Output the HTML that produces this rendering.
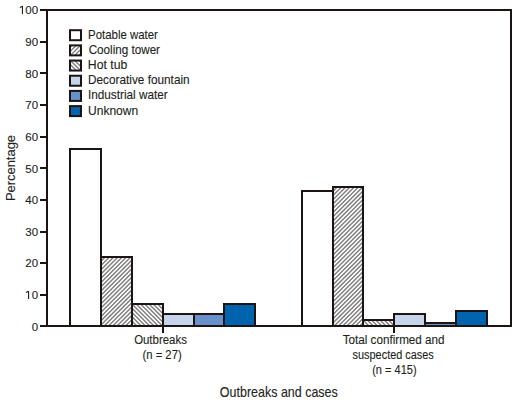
<!DOCTYPE html><html><head><meta charset="utf-8"><style>html,body{margin:0;padding:0;background:#fff;width:517px;height:405px;overflow:hidden}svg{display:block}text{font-family:"Liberation Sans",sans-serif;fill:#231f20;stroke:#231f20;stroke-width:0.12}</style></head><body><svg width="517" height="405" viewBox="0 0 517 405"><rect width="517" height="405" fill="#fff"/><rect x="70" y="149" width="31" height="177" fill="#ffffff" stroke="#1c1412" stroke-width="2"/><clipPath id="cp1"><rect x="101.00" y="257.00" width="31.00" height="69.00"/></clipPath><rect x="101.00" y="257.00" width="31.00" height="69.00" fill="#fff"/><path clip-path="url(#cp1)" d="M-7.50,255.00 L-80.50,328.00 M-3.25,255.00 L-76.25,328.00 M1.00,255.00 L-72.00,328.00 M5.25,255.00 L-67.75,328.00 M9.50,255.00 L-63.50,328.00 M13.75,255.00 L-59.25,328.00 M18.00,255.00 L-55.00,328.00 M22.25,255.00 L-50.75,328.00 M26.50,255.00 L-46.50,328.00 M30.75,255.00 L-42.25,328.00 M35.00,255.00 L-38.00,328.00 M39.25,255.00 L-33.75,328.00 M43.50,255.00 L-29.50,328.00 M47.75,255.00 L-25.25,328.00 M52.00,255.00 L-21.00,328.00 M56.25,255.00 L-16.75,328.00 M60.50,255.00 L-12.50,328.00 M64.75,255.00 L-8.25,328.00 M69.00,255.00 L-4.00,328.00 M73.25,255.00 L0.25,328.00 M77.50,255.00 L4.50,328.00 M81.75,255.00 L8.75,328.00 M86.00,255.00 L13.00,328.00 M90.25,255.00 L17.25,328.00 M94.50,255.00 L21.50,328.00 M98.75,255.00 L25.75,328.00 M103.00,255.00 L30.00,328.00 M107.25,255.00 L34.25,328.00 M111.50,255.00 L38.50,328.00 M115.75,255.00 L42.75,328.00 M120.00,255.00 L47.00,328.00 M124.25,255.00 L51.25,328.00 M128.50,255.00 L55.50,328.00 M132.75,255.00 L59.75,328.00 M137.00,255.00 L64.00,328.00 M141.25,255.00 L68.25,328.00 M145.50,255.00 L72.50,328.00 M149.75,255.00 L76.75,328.00 M154.00,255.00 L81.00,328.00 M158.25,255.00 L85.25,328.00 M162.50,255.00 L89.50,328.00 M166.75,255.00 L93.75,328.00 M171.00,255.00 L98.00,328.00 M175.25,255.00 L102.25,328.00 M179.50,255.00 L106.50,328.00 M183.75,255.00 L110.75,328.00 M188.00,255.00 L115.00,328.00 M192.25,255.00 L119.25,328.00 M196.50,255.00 L123.50,328.00 M200.75,255.00 L127.75,328.00 M205.00,255.00 L132.00,328.00 M209.25,255.00 L136.25,328.00 M213.50,255.00 L140.50,328.00" stroke="#7d7d7d" stroke-width="1.4" fill="none"/><rect x="101" y="257" width="31" height="69" fill="none" stroke="#1c1412" stroke-width="2"/><clipPath id="cp2"><rect x="132.00" y="304.00" width="31.00" height="22.00"/></clipPath><rect x="132.00" y="304.00" width="31.00" height="22.00" fill="#fff"/><path clip-path="url(#cp2)" d="M66.25,302.00 L92.25,328.00 M70.50,302.00 L96.50,328.00 M74.75,302.00 L100.75,328.00 M79.00,302.00 L105.00,328.00 M83.25,302.00 L109.25,328.00 M87.50,302.00 L113.50,328.00 M91.75,302.00 L117.75,328.00 M96.00,302.00 L122.00,328.00 M100.25,302.00 L126.25,328.00 M104.50,302.00 L130.50,328.00 M108.75,302.00 L134.75,328.00 M113.00,302.00 L139.00,328.00 M117.25,302.00 L143.25,328.00 M121.50,302.00 L147.50,328.00 M125.75,302.00 L151.75,328.00 M130.00,302.00 L156.00,328.00 M134.25,302.00 L160.25,328.00 M138.50,302.00 L164.50,328.00 M142.75,302.00 L168.75,328.00 M147.00,302.00 L173.00,328.00 M151.25,302.00 L177.25,328.00 M155.50,302.00 L181.50,328.00 M159.75,302.00 L185.75,328.00 M164.00,302.00 L190.00,328.00 M168.25,302.00 L194.25,328.00 M172.50,302.00 L198.50,328.00 M176.75,302.00 L202.75,328.00 M181.00,302.00 L207.00,328.00 M185.25,302.00 L211.25,328.00 M189.50,302.00 L215.50,328.00 M193.75,302.00 L219.75,328.00" stroke="#7d7d7d" stroke-width="1.4" fill="none"/><rect x="132" y="304" width="31" height="22" fill="none" stroke="#1c1412" stroke-width="2"/><rect x="163" y="314" width="31" height="12" fill="#c6d3ea" stroke="#1c1412" stroke-width="2"/><rect x="194" y="314" width="30" height="12" fill="#6991c9" stroke="#1c1412" stroke-width="2"/><rect x="224" y="304" width="31" height="22" fill="#0063ad" stroke="#1c1412" stroke-width="2"/><rect x="302" y="191" width="31" height="135" fill="#ffffff" stroke="#1c1412" stroke-width="2"/><clipPath id="cp3"><rect x="333.00" y="187.00" width="30.00" height="139.00"/></clipPath><rect x="333.00" y="187.00" width="30.00" height="139.00" fill="#fff"/><path clip-path="url(#cp3)" d="M156.50,185.00 L13.50,328.00 M160.75,185.00 L17.75,328.00 M165.00,185.00 L22.00,328.00 M169.25,185.00 L26.25,328.00 M173.50,185.00 L30.50,328.00 M177.75,185.00 L34.75,328.00 M182.00,185.00 L39.00,328.00 M186.25,185.00 L43.25,328.00 M190.50,185.00 L47.50,328.00 M194.75,185.00 L51.75,328.00 M199.00,185.00 L56.00,328.00 M203.25,185.00 L60.25,328.00 M207.50,185.00 L64.50,328.00 M211.75,185.00 L68.75,328.00 M216.00,185.00 L73.00,328.00 M220.25,185.00 L77.25,328.00 M224.50,185.00 L81.50,328.00 M228.75,185.00 L85.75,328.00 M233.00,185.00 L90.00,328.00 M237.25,185.00 L94.25,328.00 M241.50,185.00 L98.50,328.00 M245.75,185.00 L102.75,328.00 M250.00,185.00 L107.00,328.00 M254.25,185.00 L111.25,328.00 M258.50,185.00 L115.50,328.00 M262.75,185.00 L119.75,328.00 M267.00,185.00 L124.00,328.00 M271.25,185.00 L128.25,328.00 M275.50,185.00 L132.50,328.00 M279.75,185.00 L136.75,328.00 M284.00,185.00 L141.00,328.00 M288.25,185.00 L145.25,328.00 M292.50,185.00 L149.50,328.00 M296.75,185.00 L153.75,328.00 M301.00,185.00 L158.00,328.00 M305.25,185.00 L162.25,328.00 M309.50,185.00 L166.50,328.00 M313.75,185.00 L170.75,328.00 M318.00,185.00 L175.00,328.00 M322.25,185.00 L179.25,328.00 M326.50,185.00 L183.50,328.00 M330.75,185.00 L187.75,328.00 M335.00,185.00 L192.00,328.00 M339.25,185.00 L196.25,328.00 M343.50,185.00 L200.50,328.00 M347.75,185.00 L204.75,328.00 M352.00,185.00 L209.00,328.00 M356.25,185.00 L213.25,328.00 M360.50,185.00 L217.50,328.00 M364.75,185.00 L221.75,328.00 M369.00,185.00 L226.00,328.00 M373.25,185.00 L230.25,328.00 M377.50,185.00 L234.50,328.00 M381.75,185.00 L238.75,328.00 M386.00,185.00 L243.00,328.00 M390.25,185.00 L247.25,328.00 M394.50,185.00 L251.50,328.00 M398.75,185.00 L255.75,328.00 M403.00,185.00 L260.00,328.00 M407.25,185.00 L264.25,328.00 M411.50,185.00 L268.50,328.00 M415.75,185.00 L272.75,328.00 M420.00,185.00 L277.00,328.00 M424.25,185.00 L281.25,328.00 M428.50,185.00 L285.50,328.00 M432.75,185.00 L289.75,328.00 M437.00,185.00 L294.00,328.00 M441.25,185.00 L298.25,328.00 M445.50,185.00 L302.50,328.00 M449.75,185.00 L306.75,328.00 M454.00,185.00 L311.00,328.00 M458.25,185.00 L315.25,328.00 M462.50,185.00 L319.50,328.00 M466.75,185.00 L323.75,328.00 M471.00,185.00 L328.00,328.00 M475.25,185.00 L332.25,328.00 M479.50,185.00 L336.50,328.00 M483.75,185.00 L340.75,328.00 M488.00,185.00 L345.00,328.00 M492.25,185.00 L349.25,328.00 M496.50,185.00 L353.50,328.00 M500.75,185.00 L357.75,328.00 M505.00,185.00 L362.00,328.00 M509.25,185.00 L366.25,328.00 M513.50,185.00 L370.50,328.00" stroke="#7d7d7d" stroke-width="1.4" fill="none"/><rect x="333" y="187" width="30" height="139" fill="none" stroke="#1c1412" stroke-width="2"/><clipPath id="cp4"><rect x="363.00" y="320.00" width="31.00" height="6.00"/></clipPath><rect x="363.00" y="320.00" width="31.00" height="6.00" fill="#fff"/><path clip-path="url(#cp4)" d="M314.25,318.00 L324.25,328.00 M318.50,318.00 L328.50,328.00 M322.75,318.00 L332.75,328.00 M327.00,318.00 L337.00,328.00 M331.25,318.00 L341.25,328.00 M335.50,318.00 L345.50,328.00 M339.75,318.00 L349.75,328.00 M344.00,318.00 L354.00,328.00 M348.25,318.00 L358.25,328.00 M352.50,318.00 L362.50,328.00 M356.75,318.00 L366.75,328.00 M361.00,318.00 L371.00,328.00 M365.25,318.00 L375.25,328.00 M369.50,318.00 L379.50,328.00 M373.75,318.00 L383.75,328.00 M378.00,318.00 L388.00,328.00 M382.25,318.00 L392.25,328.00 M386.50,318.00 L396.50,328.00 M390.75,318.00 L400.75,328.00 M395.00,318.00 L405.00,328.00 M399.25,318.00 L409.25,328.00 M403.50,318.00 L413.50,328.00 M407.75,318.00 L417.75,328.00" stroke="#7d7d7d" stroke-width="1.4" fill="none"/><rect x="363" y="320" width="31" height="6" fill="none" stroke="#1c1412" stroke-width="2"/><rect x="394" y="314" width="31" height="12" fill="#c6d3ea" stroke="#1c1412" stroke-width="2"/><rect x="425" y="323" width="31" height="3" fill="#6991c9" stroke="#1c1412" stroke-width="2"/><rect x="456" y="311" width="31" height="15" fill="#0063ad" stroke="#1c1412" stroke-width="2"/><rect x="40" y="9" width="472" height="2" fill="#1c1412"/><rect x="40" y="325" width="472" height="2" fill="#1c1412"/><rect x="46" y="9" width="2" height="318" fill="#1c1412"/><rect x="510" y="9" width="2" height="318" fill="#1c1412"/><rect x="40" y="294" width="6" height="2" fill="#1c1412"/><rect x="40" y="262" width="6" height="2" fill="#1c1412"/><rect x="40" y="231" width="6" height="2" fill="#1c1412"/><rect x="40" y="199" width="6" height="2" fill="#1c1412"/><rect x="40" y="167" width="6" height="2" fill="#1c1412"/><rect x="40" y="136" width="6" height="2" fill="#1c1412"/><rect x="40" y="104" width="6" height="2" fill="#1c1412"/><rect x="40" y="72" width="6" height="2" fill="#1c1412"/><rect x="40" y="41" width="6" height="2" fill="#1c1412"/><rect x="162" y="327" width="2" height="6" fill="#1c1412"/><rect x="393" y="327" width="2" height="6" fill="#1c1412"/><rect x="70" y="30.20" width="11" height="10" fill="#ffffff" stroke="#1c1412" stroke-width="2"/><clipPath id="cp5"><rect x="70.00" y="45.38" width="11.00" height="10.00"/></clipPath><rect x="70.00" y="45.38" width="11.00" height="10.00" fill="#fff"/><path clip-path="url(#cp5)" d="M52.75,43.38 L38.75,57.38 M57.00,43.38 L43.00,57.38 M61.25,43.38 L47.25,57.38 M65.50,43.38 L51.50,57.38 M69.75,43.38 L55.75,57.38 M74.00,43.38 L60.00,57.38 M78.25,43.38 L64.25,57.38 M82.50,43.38 L68.50,57.38 M86.75,43.38 L72.75,57.38 M91.00,43.38 L77.00,57.38 M95.25,43.38 L81.25,57.38 M99.50,43.38 L85.50,57.38 M103.75,43.38 L89.75,57.38 M108.00,43.38 L94.00,57.38 M112.25,43.38 L98.25,57.38" stroke="#7d7d7d" stroke-width="1.4" fill="none"/><rect x="70" y="45.38" width="11" height="10" fill="none" stroke="#1c1412" stroke-width="2"/><clipPath id="cp6"><rect x="70.00" y="60.56" width="11.00" height="10.00"/></clipPath><rect x="70.00" y="60.56" width="11.00" height="10.00" fill="#fff"/><path clip-path="url(#cp6)" d="M38.75,58.56 L52.75,72.56 M43.00,58.56 L57.00,72.56 M47.25,58.56 L61.25,72.56 M51.50,58.56 L65.50,72.56 M55.75,58.56 L69.75,72.56 M60.00,58.56 L74.00,72.56 M64.25,58.56 L78.25,72.56 M68.50,58.56 L82.50,72.56 M72.75,58.56 L86.75,72.56 M77.00,58.56 L91.00,72.56 M81.25,58.56 L95.25,72.56 M85.50,58.56 L99.50,72.56 M89.75,58.56 L103.75,72.56 M94.00,58.56 L108.00,72.56 M98.25,58.56 L112.25,72.56" stroke="#7d7d7d" stroke-width="1.4" fill="none"/><rect x="70" y="60.56" width="11" height="10" fill="none" stroke="#1c1412" stroke-width="2"/><rect x="70" y="75.74" width="11" height="10" fill="#c6d3ea" stroke="#1c1412" stroke-width="2"/><rect x="70" y="90.92" width="11" height="10" fill="#6991c9" stroke="#1c1412" stroke-width="2"/><rect x="70" y="106.10" width="11" height="10" fill="#0063ad" stroke="#1c1412" stroke-width="2"/><text id="y0" x="38.09" y="331.00" font-size="11.5" text-anchor="end">0</text><text id="y10" x="38.09" y="299.00" font-size="11.5" text-anchor="end">0</text><text id="y20" x="38.09" y="267.00" font-size="11.5" text-anchor="end">20</text><text id="y30" x="38.09" y="236.00" font-size="11.5" text-anchor="end">30</text><text id="y40" x="38.09" y="204.00" font-size="11.5" text-anchor="end">40</text><text id="y50" x="38.09" y="173.00" font-size="11.5" text-anchor="end">50</text><text id="y60" x="38.09" y="141.00" font-size="11.5" text-anchor="end">60</text><text id="y70" x="38.09" y="109.00" font-size="11.5" text-anchor="end">70</text><text id="y80" x="38.09" y="78.00" font-size="11.5" text-anchor="end">80</text><text id="y90" x="38.09" y="46.00" font-size="11.5" text-anchor="end">90</text><text id="y100" x="38.09" y="14.00" font-size="11.5" text-anchor="end">00</text><text id="lg0" x="88.07" y="38.60" font-size="12.2" textLength="69.82" lengthAdjust="spacingAndGlyphs">Potable water</text><text id="lg1" x="88.63" y="53.78" font-size="12.2" textLength="71.40" lengthAdjust="spacingAndGlyphs">Cooling tower</text><text id="lg2" x="87.88" y="68.96" font-size="12.2" textLength="39.50" lengthAdjust="spacingAndGlyphs">Hot tub</text><text id="lg3" x="87.93" y="84.14" font-size="12.2" textLength="101.74" lengthAdjust="spacingAndGlyphs">Decorative fountain</text><text id="lg4" x="87.95" y="99.32" font-size="12.2" textLength="79.80" lengthAdjust="spacingAndGlyphs">Industrial water</text><text id="lg5" x="88.03" y="114.50" font-size="12.2" textLength="50.20" lengthAdjust="spacingAndGlyphs">Unknown</text><text id="xo" x="134.13" y="344.00" font-size="12.0" textLength="52.73" lengthAdjust="spacingAndGlyphs">Outbreaks</text><text id="xn1" x="142.47" y="359.00" font-size="12.0" textLength="39.20" lengthAdjust="spacingAndGlyphs">(n = 27)</text><text id="xt" x="342.65" y="344.00" font-size="12.0" textLength="101.96" lengthAdjust="spacingAndGlyphs">Total confirmed and</text><text id="xs" x="352.60" y="359.00" font-size="12.0" textLength="81.19" lengthAdjust="spacingAndGlyphs">suspected cases</text><text id="xn2" x="372.17" y="374.00" font-size="12.0" textLength="44.43" lengthAdjust="spacingAndGlyphs">(n = 415)</text><text id="xtitle" x="219.87" y="397.00" font-size="14.3" textLength="117.89" lengthAdjust="spacingAndGlyphs">Outbreaks and cases</text><path d="M25.95,292.50 L28.55,291.20 M28.55,291.00 V299.00" stroke="#231f20" stroke-width="1.1" fill="none"/><path d="M19.85,7.50 L22.45,6.20 M22.45,6.00 V14.00" stroke="#231f20" stroke-width="1.1" fill="none"/><text id="pct" transform="translate(15.00,168.05) rotate(-90)" font-size="13.2" text-anchor="middle" textLength="66.1" lengthAdjust="spacingAndGlyphs">Percentage</text></svg></body></html>
